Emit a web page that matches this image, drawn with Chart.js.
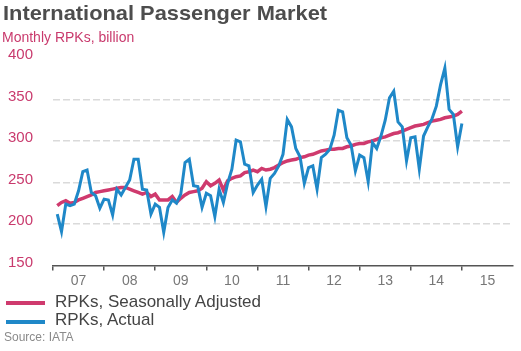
<!DOCTYPE html>
<html><head><meta charset="utf-8">
<script src="https://cdn.jsdelivr.net/npm/chart.js@4/dist/chart.umd.min.js"></script>
<style>
html,body{margin:0;padding:0;background:#fff;}
#wrap{position:relative;width:521px;height:351px;overflow:hidden;font-family:"Liberation Sans",Arial,sans-serif;}
#c{position:absolute;left:0;top:0;}
.t{position:absolute;white-space:nowrap;transform-origin:0 0;}
.sw{position:absolute;left:6px;width:39px;height:4px;}
</style></head><body>
<div id="wrap">
<canvas id="c" width="521" height="351"></canvas>
<div class="t" id="title" style="left:3px;top:1.5px;font-size:21px;line-height:21px;font-weight:bold;color:#4d4d4d;transform:scaleX(1.04)">International Passenger Market</div>
<div class="t" id="sub" style="left:2px;top:30px;font-size:14px;line-height:14px;color:#c93a6d">Monthly RPKs, billion</div>
<div id="legend"></div>
<div class="t" id="src" style="left:4px;top:330.5px;font-size:12px;line-height:12px;color:#8a8a8a">Source: IATA</div>
</div>
<script>
// ---- data ----
const startYear = 2007;
const yearLabels = ['07','08','09','10','11','12','13','14','15'];
const seriesNames = ['RPKs, Seasonally Adjusted', 'RPKs, Actual'];
const seasonallyAdjusted = [
  222,226,228,225,226,229,231,233,235,238,239,240,
  241,242,243,244,244,242,240,238,236,238,233,236,
  229,229,229,233,226,231,235,238,239,240,243,251,
  246,249,253,241,252,255,257,258,262,263,265,263,
  267,265,266,268,271,274,276,277,278,280,281,283,
  284,286,288,289,290,290,291,291,293,294,296,297,
  297,299,300,302,304,305,307,309,310,312,314,316,
  318,319,320,322,324,325,326,328,329,330,332,336
];
const actual = [
  212,191,224,222,224,240,263,265,238,234,219,230,
  229,211,242,235,244,253,278,278,242,241,212,224,
  220,190,220,229,225,236,274,278,246,245,220,237,
  234,209,242,226,249,266,301,299,272,270,238,247,
  254,221,255,261,270,284,326,317,291,281,249,268,
  270,242,280,284,290,307,337,335,304,295,264,283,
  280,251,298,291,306,325,352,360,323,317,276,304,
  305,266,306,317,327,342,368,388,338,332,293,321
];
const yMin = 150, yMax = 400, yStep = 50;

const colors = ['#cf3a6e', '#1f88c8'];
const toPoints = arr => arr.map((v, i) => ({x: i + 1, y: v}));
const totalMonths = yearLabels.length * 12;

// HTML legend built from the series
const lg = document.getElementById('legend');
seriesNames.forEach((n, i) => {
  const sw = document.createElement('div');
  sw.className = 'sw';
  sw.style.top = (301.3 + i * 18.4) + 'px';
  sw.style.background = colors[i];
  lg.appendChild(sw);
  const t = document.createElement('div');
  t.className = 't';
  t.style.cssText = 'left:55px;top:' + (292.9 + i * 18.4) + 'px;font-size:17px;line-height:17px;color:#444';
  t.textContent = n;
  lg.appendChild(t);
});

new Chart(document.getElementById('c'), {
  type: 'line',
  data: {
    datasets: [
      { label: seriesNames[1], data: toPoints(actual), borderColor: colors[1], borderWidth: 3,
        pointRadius: 0, tension: 0, order: 0, xAxisID: 'x', yAxisID: 'y' },
      { label: seriesNames[0], data: toPoints(seasonallyAdjusted), borderColor: colors[0], borderWidth: 3.5,
        pointRadius: 0, tension: 0, order: 1, xAxisID: 'x', yAxisID: 'y' }
    ]
  },
  options: {
    responsive: false,
    animation: false,
    layout: { padding: { top: 58, right: 8, bottom: 60.5, left: 0 } },
    plugins: { legend: { display: false }, tooltip: { enabled: false }, title: { display: false } },
    scales: {
      x: {
        type: 'linear', position: 'bottom', min: 0, max: totalMonths,
        ticks: { display: false, stepSize: 12 },
        grid: { drawOnChartArea: false, drawTicks: true, tickLength: 5, lineWidth: 1.5,
                color: c => (c.tick && c.tick.value === totalMonths) ? 'rgba(0,0,0,0)' : '#555' },
        border: { display: true, color: '#555', width: 1.5 },
        afterFit: s => { s.height = 5; }
      },
      x2: {
        type: 'category', position: 'bottom', labels: yearLabels, offset: true,
        grid: { display: false, drawTicks: false },
        border: { display: false },
        ticks: { color: '#777', font: { size: 14, family: 'Liberation Sans' }, padding: 2, maxRotation: 0, autoSkip: false },
        afterFit: s => { s.height = 20; }
      },
      y: {
        type: 'linear', min: yMin, max: yMax,
        ticks: { stepSize: yStep, color: '#c93a6d', padding: 20, labelOffset: -3,
                 font: { size: 15, family: 'Liberation Sans' } },
        grid: { drawTicks: false, lineWidth: 1.5,
                color: c => (c.tick && (c.tick.value === yMin || c.tick.value === yMax)) ? 'rgba(0,0,0,0)' : '#dadada' },
        border: { display: false, dash: [7, 3] },
        afterFit: s => { s.width = 53; }
      }
    }
  }
});
</script>
</body></html>
